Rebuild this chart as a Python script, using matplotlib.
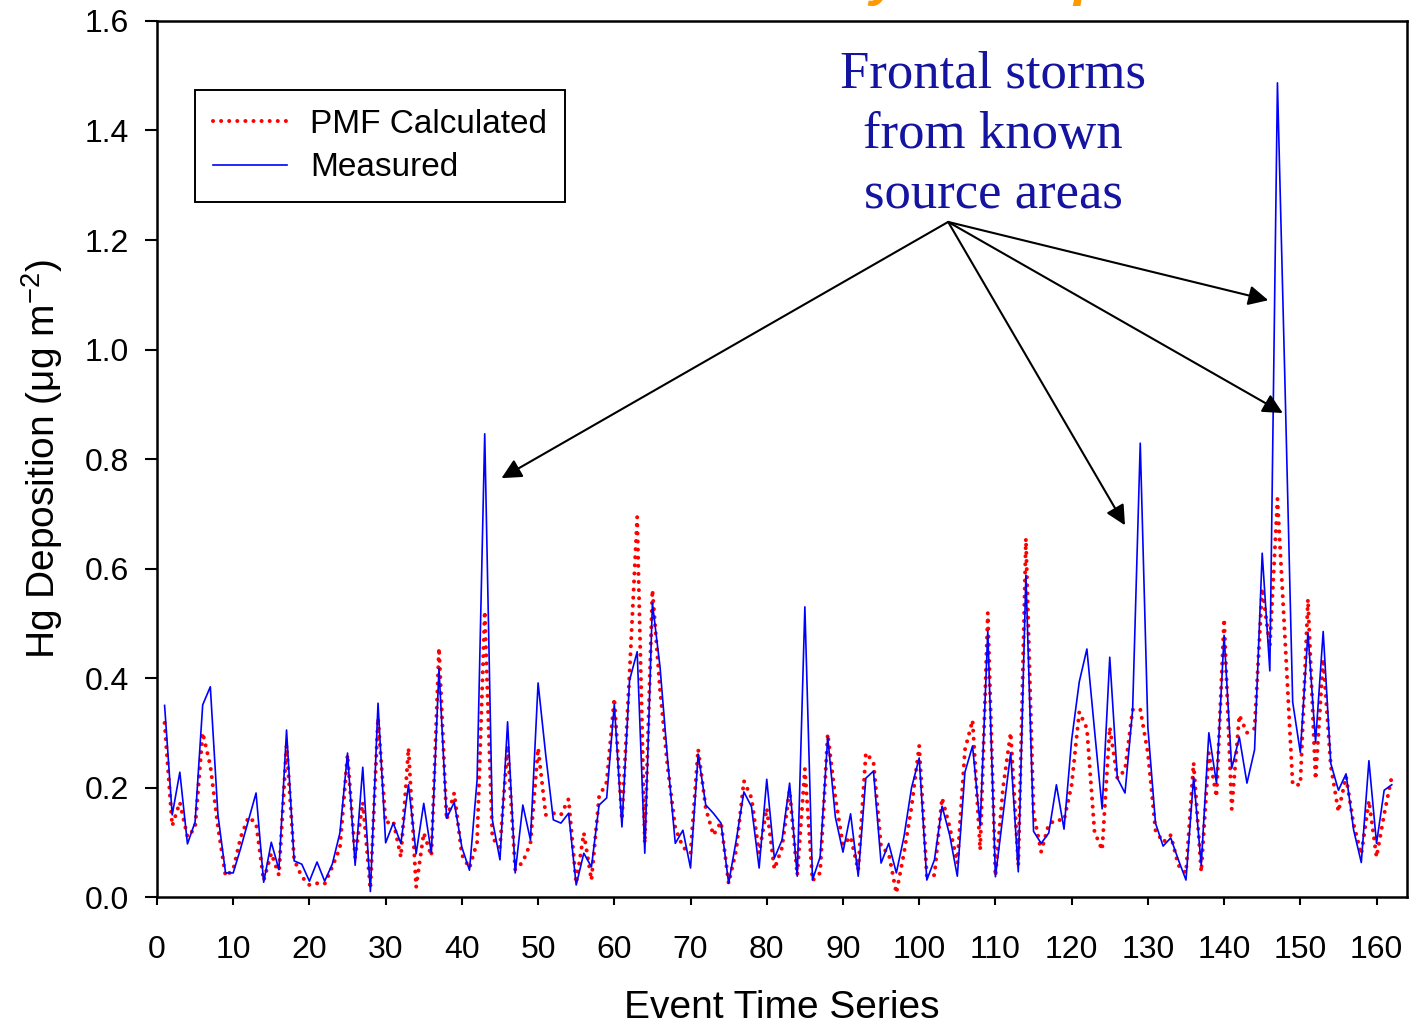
# Matplotlib Setup
import matplotlib
matplotlib.use('Agg')
import matplotlib.pyplot as plt

# Imports
import numpy as np

plt.rcParams['font.family'] = ['Liberation Sans', 'DejaVu Sans']

# Event numbers
events = np.arange(1, 163)

# Measured Hg deposition (ug m-2)
measured = [
    0.350, 0.150, 0.228, 0.097, 0.137, 0.351, 0.384, 0.150, 0.044, 0.044,
    0.090, 0.140, 0.190, 0.027, 0.100, 0.050, 0.305, 0.066, 0.060, 0.029,
    0.064, 0.029, 0.060, 0.117, 0.263, 0.058, 0.237, 0.010, 0.354, 0.099,
    0.135, 0.098, 0.205, 0.079, 0.171, 0.080, 0.417, 0.144, 0.173, 0.091,
    0.049, 0.214, 0.846, 0.141, 0.068, 0.320, 0.044, 0.168, 0.104, 0.391,
    0.260, 0.141, 0.135, 0.153, 0.022, 0.080, 0.055, 0.168, 0.181, 0.352,
    0.128, 0.396, 0.448, 0.080, 0.537, 0.420, 0.250, 0.098, 0.122, 0.053,
    0.261, 0.168, 0.153, 0.135, 0.025, 0.104, 0.192, 0.165, 0.053, 0.215,
    0.071, 0.104, 0.208, 0.038, 0.530, 0.031, 0.073, 0.292, 0.146, 0.082,
    0.152, 0.038, 0.217, 0.230, 0.062, 0.098, 0.044, 0.110, 0.200, 0.254,
    0.031, 0.068, 0.166, 0.113, 0.038, 0.228, 0.276, 0.130, 0.486, 0.037,
    0.150, 0.263, 0.046, 0.588, 0.120, 0.098, 0.117, 0.205, 0.124, 0.287,
    0.393, 0.453, 0.305, 0.161, 0.438, 0.217, 0.190, 0.342, 0.829, 0.310,
    0.135, 0.093, 0.108, 0.068, 0.031, 0.219, 0.058, 0.300, 0.208, 0.478,
    0.235, 0.292, 0.208, 0.269, 0.628, 0.413, 1.487, 0.930, 0.356, 0.264,
    0.483, 0.283, 0.485, 0.244, 0.195, 0.225, 0.122, 0.063, 0.249, 0.098,
    0.195, 0.205,
]

# PMF calculated Hg deposition
pmf = [
    0.318, 0.130, 0.173, 0.110, 0.126, 0.300, 0.240, 0.128, 0.038, 0.050,
    0.110, 0.146, 0.135, 0.030, 0.080, 0.040, 0.277, 0.068, 0.037, 0.022,
    0.025, 0.024, 0.055, 0.090, 0.260, 0.073, 0.173, 0.015, 0.327, 0.135,
    0.139, 0.073, 0.272, 0.018, 0.117, 0.075, 0.455, 0.141, 0.190, 0.077,
    0.053, 0.100, 0.522, 0.108, 0.091, 0.277, 0.050, 0.064, 0.098, 0.272,
    0.150, 0.153, 0.150, 0.179, 0.025, 0.117, 0.031, 0.183, 0.210, 0.363,
    0.141, 0.409, 0.694, 0.098, 0.561, 0.378, 0.237, 0.126, 0.091, 0.080,
    0.270, 0.162, 0.113, 0.137, 0.025, 0.086, 0.212, 0.181, 0.080, 0.162,
    0.051, 0.090, 0.195, 0.040, 0.234, 0.030, 0.044, 0.298, 0.181, 0.095,
    0.110, 0.049, 0.263, 0.247, 0.091, 0.080, 0.007, 0.080, 0.165, 0.276,
    0.038, 0.040, 0.181, 0.128, 0.062, 0.269, 0.323, 0.086, 0.519, 0.038,
    0.200, 0.300, 0.058, 0.655, 0.153, 0.083, 0.133, 0.141, 0.140, 0.205,
    0.338, 0.308, 0.119, 0.086, 0.310, 0.217, 0.232, 0.342, 0.343, 0.263,
    0.122, 0.100, 0.113, 0.058, 0.044, 0.245, 0.046, 0.263, 0.183, 0.508,
    0.161, 0.332, 0.300, 0.308, 0.564, 0.457, 0.727, 0.470, 0.205, 0.205,
    0.544, 0.215, 0.435, 0.239, 0.156, 0.220, 0.132, 0.078, 0.176, 0.073,
    0.151, 0.220,
]

# Tick labels
xticks = list(range(0, 161, 10))
yticks = [0.0, 0.2, 0.4, 0.6, 0.8, 1.0, 1.2, 1.4, 1.6]

# Arrow tips pointing at the frontal storm events
arrow_origin = (103.8, 1.233)
arrow_tips = [(45.2, 0.765), (127.0, 0.679), (145.8, 1.09), (147.7, 0.884)]

fig = plt.figure(figsize=(14.09, 10.24), dpi=100)
ax = fig.add_axes([0.1114, 0.124, 0.8872, 0.8555])

# Series
ax.plot(events, pmf, color='red', lw=2.9, linestyle=(0, (0.01, 2.0)),
        dash_capstyle='round', label='PMF Calculated')
ax.plot(events, measured, color='#0000ff', lw=1.2, label='Measured')

ax.set_xlim(0, 164)
ax.set_ylim(0, 1.6)
ax.set_xticks(xticks)
ax.set_yticks(yticks)
ax.set_yticklabels(['%.1f' % v for v in yticks])
ax.tick_params(axis='x', direction='out', length=6, width=1.5, labelsize=23, pad=21)
ax.tick_params(axis='y', direction='out', length=9, width=1.5, labelsize=23, pad=11)
for s in ax.spines.values():
    s.set_linewidth(1.8)

ax.set_xlabel('Event Time Series', fontsize=28, labelpad=18)
ax.set_ylabel('Hg Deposition (\u03bcg m$^{\\mathregular{-2}}$)', fontsize=28, labelpad=14)

# Legend
leg = ax.legend(loc='upper left', bbox_to_anchor=(0.0304, 0.921), borderaxespad=0,
                fontsize=24, fancybox=False, frameon=True, framealpha=1,
                handlelength=2.2, handletextpad=0.7, borderpad=0.55,
                labelspacing=0.38)
leg.get_frame().set_edgecolor('black')
leg.get_frame().set_linewidth(1.4)

# Annotation
ax.text(109.7, 1.392, 'Frontal storms\nfrom known\nsource areas', fontsize=38,
        family='Liberation Serif', color='#1414a0', ha='center', va='center',
        linespacing=1.33)
for tip in arrow_tips:
    ax.annotate('', xy=tip, xytext=arrow_origin,
                arrowprops=dict(arrowstyle='-|>', color='black', lw=1.5,
                                mutation_scale=30, shrinkA=0, shrinkB=0))

# Title cut off at top of the slide
fig.text(0.628, 1.006, 'y', fontsize=40, color='#ff9900', fontweight='bold',
         fontstyle='italic', ha='center', va='baseline')
fig.text(0.774, 1.006, 'p', fontsize=40, color='#ff9900', fontweight='bold',
         fontstyle='italic', ha='center', va='baseline')

fig.savefig('out.png', dpi=100)
